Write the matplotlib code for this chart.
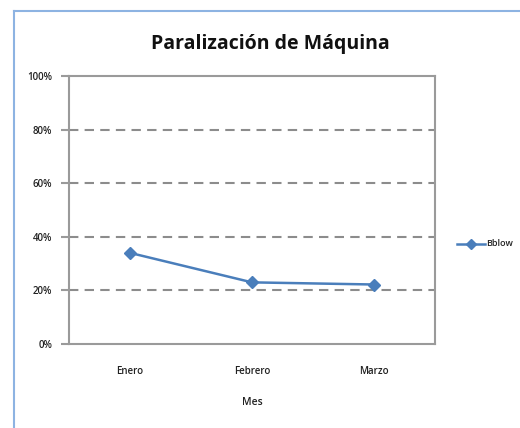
import matplotlib
matplotlib.use("Agg")
import matplotlib.pyplot as plt
from matplotlib.lines import Line2D
from matplotlib.ticker import FuncFormatter

categories = ["Enero", "Febrero", "Marzo"]
values = [0.34, 0.23, 0.222]
series_name = "Bblow"
yticks = [0, 0.2, 0.4, 0.6, 0.8, 1.0]

W, H = 520, 428
fig = plt.figure(figsize=(W / 100, H / 100), dpi=100)
fig.patch.set_facecolor("white")

# outer chart frame (left and top edges visible)
fig.add_artist(Line2D([14 / W, 14 / W], [0, 1 - 11 / H], transform=fig.transFigure,
                      color="#8DB3E2", lw=1.5))
fig.add_artist(Line2D([14 / W, 1], [1 - 11 / H, 1 - 11 / H], transform=fig.transFigure,
                      color="#8DB3E2", lw=1.5))

left, right, top, bottom = 69, 435, 76, 344
ax = fig.add_axes([left / W, 1 - bottom / H, (right - left) / W, (bottom - top) / H])

x = list(range(len(categories)))
ax.plot(x, values, color="#4A7EBB", lw=1.8, marker="D", markersize=6,
        markerfacecolor="#4A7EBB", markeredgecolor="#4A7EBB", zorder=3)

ax.set_xlim(-0.5, len(categories) - 0.5)
ax.set_ylim(0, 1)
ax.set_yticks(yticks)
ax.yaxis.set_major_formatter(FuncFormatter(lambda v, p: f"{int(round(v * 100))}%"))
ax.set_xticks(x)
ax.set_xticklabels(categories)

for yv in yticks[1:-1]:
    ax.axhline(yv, color="#8C8C8C", lw=1.5, ls=(0, (4.5, 3)), zorder=1)

for s in ax.spines.values():
    s.set_color("#9A9A9A")
    s.set_linewidth(1.5)

ax.tick_params(axis="y", direction="out", length=6, width=1.5, color="#9A9A9A",
               pad=6, labelsize=7, labelcolor="#222222")
ax.tick_params(axis="x", length=0, pad=16, labelsize=7, labelcolor="#222222")
for lab in ax.get_xticklabels() + ax.get_yticklabels():
    lab.set_fontfamily("Open Sans")
    lab.set_fontweight("semibold")

ax.set_xlabel("Mes", fontsize=7.5, fontfamily="Open Sans", fontweight="semibold",
              color="#222222", labelpad=14)

fig.text(270 / W, 1 - 44 / H, "Paralización de Máquina", ha="center", va="center",
         fontsize=14, fontfamily="Open Sans", fontweight="bold", color="#111111")

# legend
fig.add_artist(Line2D([457 / W, 485 / W], [1 - 244 / H] * 2, transform=fig.transFigure,
                      color="#4A7EBB", lw=1.8))
fig.add_artist(Line2D([471 / W], [1 - 244 / H], transform=fig.transFigure,
                      color="#4A7EBB", marker="D", markersize=5))
fig.text(486 / W, 1 - 244 / H, series_name, ha="left", va="center", fontsize=6.5,
         fontfamily="Open Sans", fontweight="semibold", color="#222222")

fig.savefig("out.png", dpi=100, facecolor="white")
